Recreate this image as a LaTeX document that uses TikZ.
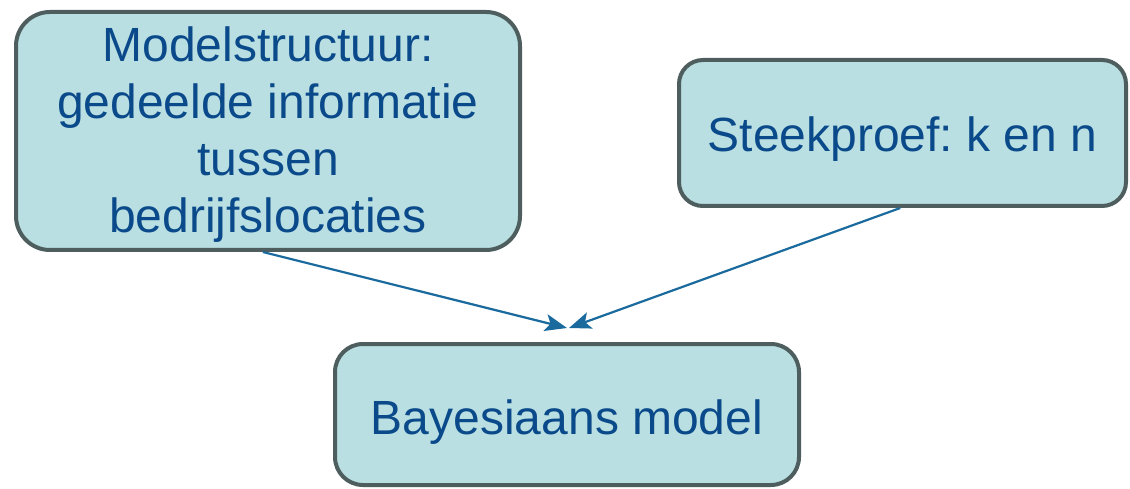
\documentclass[tikz,border=0pt]{standalone}
\usepackage{fontspec}
\setmainfont{Liberation Sans}
\usetikzlibrary{arrows.meta,calc}
\definecolor{boxfill}{HTML}{B9DFE2}
\definecolor{boxline}{HTML}{4E5E5E}
\definecolor{txt}{HTML}{0B4A8A}
\definecolor{arr}{HTML}{1A6A9E}
\frenchspacing
\begin{document}
\begin{tikzpicture}[x=1pt,y=-1pt,
  box/.style={draw=boxline, fill=boxfill, line width=4pt, rounded corners=#1,
    text=txt, align=center, inner sep=0pt, font=\fontsize{48}{57}\selectfont},
  conn/.style={draw=arr, line width=2.2pt, -{Stealth[length=22pt,width=17pt,inset=5pt]}}]
\useasboundingbox (0,0) rectangle (1130,489);
\node[box=34pt, minimum width=504pt, minimum height=238pt] (b1) at (268,131)
  {\raisebox{-5pt}[\height][\depth]{\begin{tabular}{@{}c@{}}Modelstructuur:\\gedeelde informatie\\tussen\\bedrijfslocaties\end{tabular}}};
\node[box=24pt, minimum width=447pt, minimum height=146pt] (b2) at (902.5,133)
  {\raisebox{-6.5pt}[\height][\depth]{Steekproef: k en n}};
\node[box=28pt, minimum width=464pt, minimum height=141pt] (b3) at (567,414.5)
  {\raisebox{-8pt}[\height][\depth]{Bayesiaans model}};
\coordinate (s1) at ($(b1.south west)!0.49!(b1.south east)$);
\coordinate (s2) at ($(b2.south west)!0.495!(b2.south east)$);
\coordinate (t1) at (567,328);
\coordinate (t2) at (569,328);
\draw[conn] (s1) -- (t1);
\draw[conn] (s2) -- (t2);
\end{tikzpicture}
\end{document}
